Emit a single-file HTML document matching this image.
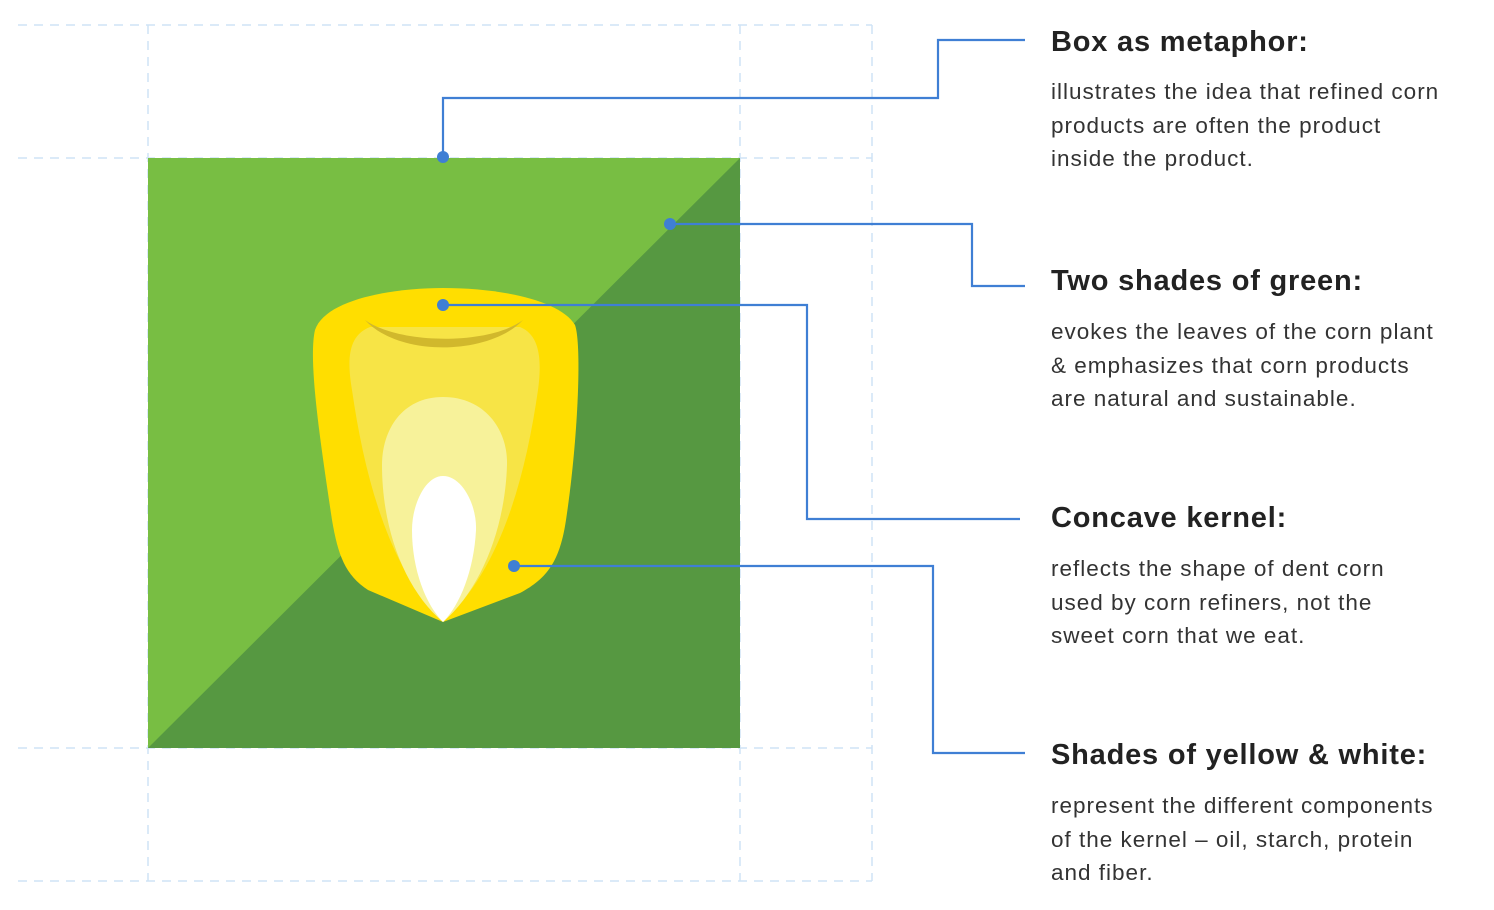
<!DOCTYPE html>
<html><head><style>
body{margin:0;background:#fff;width:1494px;height:910px;overflow:hidden;position:relative;font-family:"Liberation Sans",sans-serif;color:#222}
.t{position:absolute;left:1051px;font-weight:bold;font-size:29px;letter-spacing:0.8px;white-space:nowrap}
.b{position:absolute;left:1051px;font-size:22.5px;line-height:33.7px;letter-spacing:1px;color:#333;white-space:nowrap}
</style></head><body>
<svg width="1494" height="910" style="position:absolute;left:0;top:0">
<g stroke="#cfe3f5" stroke-width="1.5" stroke-dasharray="9,7" fill="none">
<line x1="18" y1="25" x2="872" y2="25"/><line x1="18" y1="158" x2="872" y2="158"/>
<line x1="18" y1="748" x2="872" y2="748"/><line x1="18" y1="881" x2="872" y2="881"/>
<line x1="148" y1="25" x2="148" y2="881"/><line x1="740" y1="25" x2="740" y2="881"/>
<line x1="872" y1="25" x2="872" y2="881"/>
</g>
<rect x="148" y="158" width="592" height="590" fill="#78BE43"/>
<polygon points="740,158 740,748 148,748" fill="#569841"/>
<path d="M443,288 C500,288 560,300 575,325 C582,345 578,440 566,520 C560,560 548,578 520,593 L443,622 L368,590 C345,575 338,555 332,520 C320,440 308,360 315,330 C325,300 390,288 443,288 Z" fill="#FFDE00"/>
<path d="M370,327 L520,327 C540,335 542,360 538,390 C525,480 500,570 443,622 C390,570 365,480 352,390 C346,355 350,335 370,327 Z" fill="#F7E446"/>
<path d="M443,397 C485,397 508,430 507,465 C505,530 480,590 443,622 C405,590 382,530 382,465 C382,430 402,397 443,397 Z" fill="#F7F29A"/>
<path d="M443,476 C462,476 477,505 476,530 C474,570 460,605 443,622 C426,605 412,570 412,530 C412,505 425,476 443,476 Z" fill="#fff"/>
<path d="M365,320 C400,345 490,345 523,320 C490,355 400,358 365,320 Z" fill="#D1B82C"/>
<g stroke="#3F7FD4" stroke-width="2.2" fill="none">
<polyline points="443,157 443,98 938,98 938,40 1025,40"/>
<polyline points="670,224 972,224 972,286 1025,286"/>
<polyline points="443,305 807,305 807,519 1020,519"/>
<polyline points="514,566 933,566 933,753 1025,753"/>
</g>
<g fill="#3F7FD4"><circle cx="443" cy="157" r="6"/><circle cx="670" cy="224" r="6"/><circle cx="443" cy="305" r="6"/><circle cx="514" cy="566" r="6"/></g>
</svg>
<div class="t" style="top:26px">Box as metaphor:</div>
<div class="b" style="top:75px">illustrates the idea that refined corn<br>products are often the product<br>inside the product.</div>
<div class="t" style="top:265px">Two shades of green:</div>
<div class="b" style="top:315px">evokes the leaves of the corn plant<br>&amp; emphasizes that corn products<br>are natural and sustainable.</div>
<div class="t" style="top:502px">Concave kernel:</div>
<div class="b" style="top:552px">reflects the shape of dent corn<br>used by corn refiners, not the<br>sweet corn that we eat.</div>
<div class="t" style="top:739px">Shades of yellow &amp; white:</div>
<div class="b" style="top:789px">represent the different components<br>of the kernel – oil, starch, protein<br>and fiber.</div>
</body></html>
